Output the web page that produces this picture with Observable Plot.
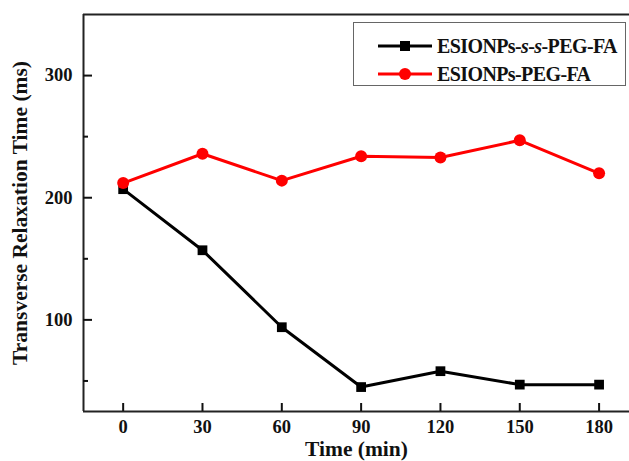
<!DOCTYPE html>
<html>
<head>
<meta charset="utf-8">
<script src="https://cdn.jsdelivr.net/npm/d3@7"></script>
<script src="https://cdn.jsdelivr.net/npm/@observablehq/plot@0.6"></script>
<style>
  html, body { margin: 0; padding: 0; background: #fff; }
  #wrap { position: relative; width: 629px; height: 461px; overflow: hidden; }
  #wrap svg g[aria-label$="tick label"], #wrap svg g[aria-label$="tick label"] text { font-size: 18.5px !important; }
  #wrap svg g[aria-label="x-axis label"], #wrap svg g[aria-label="x-axis label"] text,
  #wrap svg g[aria-label="y-axis label"], #wrap svg g[aria-label="y-axis label"] text { font-size: 21.5px !important; }
  #legend { position: absolute; left: 353px; top: 22px; width: 271px; height: 62px; border: 1.5px solid #666; background: #fff;
    font-family: "Liberation Serif", "Times New Roman", serif; font-weight: bold; font-size: 20px; letter-spacing: -0.6px; color: #111; }
  .row { position: absolute; left: 0; height: 22px; display: flex; align-items: center; white-space: nowrap; }
  .row svg { margin-left: 24px; margin-right: 5px; flex: none; }
</style>
</head>
<body>
<div id="wrap"></div>
<script>
const times = [0, 30, 60, 90, 120, 150, 180];
const ssPegFa = [207, 157, 94, 45, 58, 47, 47];
const pegFa = [212, 236, 214, 234, 233, 247, 220];
const seriesNames = ["ESIONPs-s-s-PEG-FA", "ESIONPs-PEG-FA"];
const seriesColors = ["#000000", "#ff0000"];
const yMajorTicks = [100, 200, 300];
const yMinorTicks = [50, 150, 250];
const xTicks = [0, 30, 60, 90, 120, 150, 180];

const black = times.map((t, i) => ({time: t, value: ssPegFa[i]}));
const red = times.map((t, i) => ({time: t, value: pegFa[i]}));
const font = "'Liberation Serif', 'Times New Roman', serif";

const chart = Plot.plot({
  width: 629,
  height: 461,
  marginLeft: 83,
  marginRight: 0,
  marginTop: 14,
  marginBottom: 50,
  style: {fontFamily: font, fontWeight: "bold", fontSize: "18px", color: "#111", background: "#fff"},
  x: {domain: [-15, 191.5]},
  y: {domain: [25, 350]},
  marks: [
    Plot.ruleY([350], {stroke: "#222", strokeWidth: 2}),
    Plot.ruleY([25], {stroke: "#222", strokeWidth: 2}),
    Plot.ruleX([-15], {stroke: "#222", strokeWidth: 2}),
    Plot.axisX({ticks: xTicks, tickSize: -8, strokeWidth: 2, tickFormat: () => "", label: null}),
    Plot.axisX({ticks: xTicks, tickSize: 0, tickPadding: 8, label: null}),
    Plot.axisY({ticks: yMajorTicks, tickSize: -9, strokeWidth: 2, tickFormat: () => "", label: null}),
    Plot.axisY({ticks: yMinorTicks, tickSize: -5, strokeWidth: 2, tickFormat: () => "", label: null}),
    Plot.axisY({ticks: yMajorTicks, tickSize: 0, tickPadding: 11, label: null}),
    Plot.line(black, {x: "time", y: "value", stroke: seriesColors[0], strokeWidth: 3}),
    Plot.dot(black, {x: "time", y: "value", symbol: "square", r: 5.5, fill: seriesColors[0]}),
    Plot.line(red, {x: "time", y: "value", stroke: seriesColors[1], strokeWidth: 3}),
    Plot.dot(red, {x: "time", y: "value", r: 6, fill: seriesColors[1]}),
    Plot.axisX({ticks: [], label: "Time (min)", labelAnchor: "center", labelArrow: "none", labelOffset: 44}),
    Plot.axisY({ticks: [], label: "Transverse Relaxation Time (ms)", labelAnchor: "center", labelArrow: "none", labelOffset: 72})
  ]
});

const wrap = document.getElementById("wrap");
wrap.appendChild(chart);

const legend = document.createElement("div");
legend.id = "legend";
const rowTops = [12, 40];
seriesNames.forEach((name, i) => {
  const row = document.createElement("div");
  row.className = "row";
  row.style.top = rowTops[i] + "px";
  const marker = i === 0
    ? `<rect x="22" y="-5" width="10" height="10" fill="${seriesColors[i]}"/>`
    : `<circle cx="27" cy="0" r="6" fill="${seriesColors[i]}"/>`;
  row.innerHTML = `<svg width="54" height="16" viewBox="0 -8 54 16"><line x1="0" x2="54" y1="0" y2="0" stroke="${seriesColors[i]}" stroke-width="3"/>${marker}</svg>` +
    (i === 0 ? `<span>ESIONPs-<i>s</i>-<i>s</i>-PEG-FA</span>` : `<span>${name}</span>`);
  legend.appendChild(row);
});
wrap.appendChild(legend);
</script>
</body>
</html>
